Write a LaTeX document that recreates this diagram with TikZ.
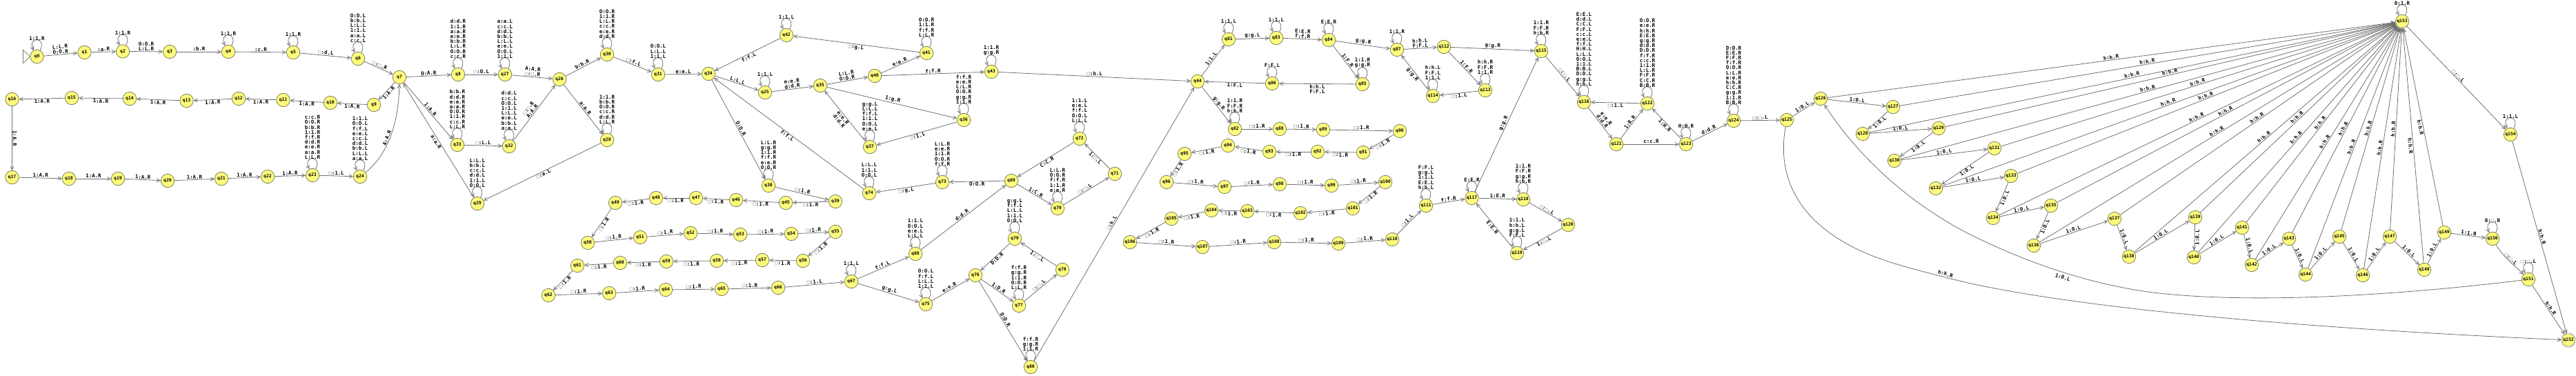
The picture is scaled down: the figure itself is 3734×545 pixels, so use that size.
\documentclass[tikz,border=0pt]{standalone}
\usepackage{fontspec}
\setmonofont{DejaVu Sans Mono}
\usetikzlibrary{arrows.meta}
\definecolor{stfill}{HTML}{FFFC7C}
\definecolor{stline}{HTML}{7F7F60}
\definecolor{conncol}{HTML}{707070}
\newcommand\bx{{\mdseries\color{gray}□}}
\tikzset{
  stt/.style={circle,draw=stline,fill=stfill,line width=.8pt,minimum size=19.4pt,inner sep=0pt,font=\ttfamily\bfseries\fontsize{6.4}{7}\selectfont},
  conn/.style={draw=conncol,line width=.8pt,-{Straight Barb[length=5pt,width=5pt]}},
  edgelab/.style={sloped,midway,inner sep=.8pt,align=center,font=\ttfamily\bfseries\fontsize{7.4}{7.2}\selectfont},
  freelab/.style={inner sep=.8pt,align=center,font=\ttfamily\bfseries\fontsize{7.4}{7.2}\selectfont},
  looplab/.style={inner sep=0pt,align=center,anchor=south,font=\ttfamily\bfseries\fontsize{7.4}{7.2}\selectfont},
}
\newcommand\mystate[4][]{%
  \expandafter\xdef\csname px@#2\endcsname{#3}%
  \node[stt,#1] (#2) at (#3,#4) {#2};}
\newcommand\myedge[3]{%
  \ifdim\csname px@#1\endcsname pt>\csname px@#2\endcsname pt
    \tikzset{labside/.style={below}}%
  \else
    \tikzset{labside/.style={above}}%
  \fi
  \draw[conn] (#1) -- node[edgelab,labside] (l#1-#2) {#3} (#2);}
\newcommand\myloop[2]{%
  \draw[conn] (#1.62) .. controls ([shift={(10pt,20.5pt)}]#1.62) and ([shift={(-10pt,20.5pt)}]#1.118) .. (#1.118);
  \node[looplab] (ll#1) at ([yshift=13.3pt]#1.north) {#2};}
\begin{document}
\begin{tikzpicture}[x=1pt,y=-1pt]
\useasboundingbox (0,0) rectangle (3734,545);
% states
\foreach \n/\x/\y in {q0/53.5/82,q1/122.5/76,q2/178/74.5,q3/246/75,q4/331/75,q5/425/76,
 q6/519/85,q7/579/112,q8/664/108,q9/542/152,q10/479/149,q11/410.5/145,q12/346/143,q13/270.5/146,q14/188/143,q15/104/142,q16/17.5/144,
 q17/17.5/257,q18/100/259,q19/171/259,q20/243/262,q21/321/259,q22/388/256,q23/453/254,q24/522/256,
 q25/1109/134,q26/811/115,q27/732/108,q28/880/203,q29/692/295,q30/880/79,q31/954/108,q32/738/212,q33/663/210,
 q34/1027/107,q35/1189/124,q36/1397/174,q37/1261/213,q38/1114/269,q39/1211/292,q40/1268/110,q41/1343/77,q42/1140/51,q43/1437/104,
 q44/1736/118,q45/1139/294,q46/1067/290,q47/1009/287,q48/951/287,q49/892/294,q50/852/352,q51/928/344,q52/1001/338,q53/1073/340,q54/1147/339,q55/1211/336,
 q56/1164/378,q57/1105/377,q58/1039/378,q59/966/379,q60/899/381,q61/837/385,q62/795/428,q63/883/425,q64/965/420,q65/1046/419,q66/1128/417,
 q67/1234/408,q68/1327/368,q69/1466/262,q70/1533/302,q71/1616/252,q72/1565/201,q73/1366/264,q74/1260/280,q75/1342/441,q76/1414/399,q77/1477/443,q78/1540/391,q79/1471/346,q80/1494/532,
 q81/1781/57,q82/1790/187,q83/1850/55,q84/1926/58,q85/1975/122,q86/1844/121,q87/2025/72,q88/1855/187,q89/1918/188,q90/2029/190,q91/1976/221,q92/1910/220,q93/1840/220,q94/1780/211,q95/1717/223,q96/1691/264,
 q97/1775/271,q98/1855/267,q99/1930/269,q100/2008/264,q101/1961/302,q102/1885/309,q103/1808/306,q104/1756/305,q105/1698/317,q106/1638/351,q107/1743/358,q108/1847/351,q109/1940/353,q110/2018/347,q111/2067/298,
 q112/2093/68,q113/2153/131,q114/2077/139,q115/2234/74,q116/2296/148,q117/2133.5/287,q118/2208/289,q119/2199/367,q120/2273/326,q121/2343/209,q122/2388/150,q123/2444/209,q124/2513/175,q125/2590/174,
 q126/2639/143,q127/2744/155,q128/2700/194,q129/2810/186,q130/2746/233,q131/2891/215,q132/2806/273,q133/2915/255,q134/2889/316,q135/2973/298,q136/2948/356,q137/3065/317,q138/3086/372,
 q139/3182/315,q140/3180/373,q141/3250/330,q142/3264/384,q143/3318/346,q144/3342/398,q145/3391/343,q146/3425/399,q147/3464/343,q148/3514/391,q149/3543/337,q150/3613/346,q151/3665/405,q153/3482/31,q154/3639/195}
 {\mystate{\n}{\x}{\y}}
\mystate[double,double distance=.6pt,line width=.5pt]{q152}{3723}{493}
% start marker
\draw[draw=stline,line width=.8pt] (q0.west) -- ++(-10,-9.7) -- ++(0,19.4) -- cycle;
% loops
\myloop{q0}{1:1.R}
\myloop{q2}{1:1.R}
\myloop{q4}{1:1.R}
\myloop{q5}{1:1.R}
\myloop{q6}{O:O.L\\b:b.L\\L:L.L\\1:1.L\\a:a.L\\c:c.L}
\myloop{q8}{d:d.R\\1:1.R\\a:a.R\\e:e.R\\b:b.R\\L:L.R\\O:O.R\\c:c.R}
\myloop{q23}{c:c.R\\O:O.R\\b:b.R\\1:1.R\\f:f.R\\d:d.R\\e:e.R\\a:a.R\\L:L.R}
\myloop{q24}{1:1.L\\O:O.L\\f:f.L\\e:e.L\\c:c.L\\d:d.L\\b:b.L\\L:L.L\\a:a.L}
\myloop{q25}{1:1.L}
\myloop{q27}{a:a.L\\c:c.L\\d:d.L\\b:b.L\\L:L.L\\e:e.L\\O:O.L\\1:1.L}
\myloop{q28}{1:1.R\\b:b.R\\O:O.R\\c:c.R\\d:d.R\\L:L.R}
\myloop{q29}{L:L.L\\b:b.L\\c:c.L\\d:d.L\\1:1.L\\O:O.L}
\myloop{q30}{O:O.R\\1:1.R\\L:L.R\\c:c.R\\e:e.R\\d:d.R}
\myloop{q31}{O:O.L\\L:L.L\\1:1.L}
\myloop{q32}{d:d.L\\c:c.L\\O:O.L\\1:1.L\\L:L.L\\e:e.L\\b:b.L\\a:a.L}
\myloop{q33}{b:b.R\\d:d.R\\e:e.R\\a:a.R\\O:O.R\\1:1.R\\c:c.R\\L:L.R}
\myloop{q36}{f:f.R\\e:e.R\\L:L.R\\O:O.R\\g:g.R\\1:1.R}
\myloop{q37}{g:g.L\\L:L.L\\f:f.L\\1:1.L\\O:O.L\\e:e.L}
\myloop{q38}{L:L.R\\g:g.R\\1:1.R\\f:f.R\\e:e.R\\O:O.R}
\myloop{q41}{O:O.R\\1:1.R\\f:f.R\\L:L.R}
\myloop{q42}{1:1.L}
\myloop{q43}{1:1.R\\g:g.R}
\myloop{q67}{1:1.L}
\myloop{q68}{1:1.L\\O:O.L\\e:e.L\\L:L.L}
\myloop{q70}{L:L.R\\O:O.R\\f:f.R\\1:1.R\\e:e.R}
\myloop{q72}{1:1.L\\e:e.L\\f:f.L\\O:O.L\\L:L.L}
\myloop{q73}{L:L.R\\e:e.R\\1:1.R\\O:O.R\\f:f.R}
\myloop{q74}{L:L.L\\1:1.L\\O:O.L}
\myloop{q75}{O:O.L\\f:f.L\\L:L.L\\1:1.L}
\myloop{q77}{f:f.R\\g:g.R\\1:1.R\\O:O.R\\L:L.R}
\myloop{q79}{g:g.L\\f:f.L\\L:L.L\\1:1.L\\O:O.L}
\myloop{q80}{f:f.R\\g:g.R\\1:1.R}
\myloop{q81}{1:1.L}
\myloop{q82}{1:1.R\\F:F.R\\h:h.R}
\myloop{q83}{1:1.L}
\myloop{q84}{E:E.R}
\myloop{q85}{1:1.R\\g:g.R}
\myloop{q86}{F:F.L}
\myloop{q87}{1:1.R}
\myloop{q111}{F:F.L\\g:g.L\\1:1.L\\E:E.L\\h:h.L}
\myloop{q113}{h:h.R\\F:F.R\\1:1.R}
\myloop{q114}{h:h.L\\F:F.L\\1:1.L}
\myloop{q115}{1:1.R\\F:F.R\\h:h.R}
\myloop{q116}{E:E.L\\d:d.L\\C:C.L\\F:F.L\\c:c.L\\e:e.L\\f:f.L\\H:H.L\\L:L.L\\O:O.L\\1:1.L\\B:B.L\\D:D.L\\g:g.L\\h:h.L}
\myloop{q117}{E:E.R}
\myloop{q118}{1:1.R\\F:F.R\\g:g.R\\h:h.R}
\myloop{q119}{1:1.L\\h:h.L\\g:g.L\\F:F.L}
\myloop{q122}{O:O.R\\e:e.R\\h:h.R\\E:E.R\\g:g.R\\d:d.R\\D:D.R\\f:f.R\\c:c.R\\1:1.R\\L:L.R\\F:F.R\\C:C.R\\B:B.R}
\myloop{q123}{H:H.R}
\myloop{q124}{D:D.R\\E:E.R\\F:F.R\\f:f.R\\O:O.R\\L:L.R\\e:e.R\\h:h.R\\C:C.R\\g:g.R\\1:1.R\\B:B.R}
\myloop{q150}{0:\bx.R}
\myloop{q151}{\bx:\bx.L}
\myloop{q153}{0:1.R}
\myloop{q154}{1:1.L}
% simple chains
\foreach \a/\b in {q9/q10,q10/q11,q11/q12,q12/q13,q13/q14,q14/q15,q15/q16,q16/q17,q17/q18,q18/q19,q19/q20,q20/q21,q21/q22,q22/q23,q7/q9,q7/q33}
 {\myedge{\a}{\b}{1:A.R}}
\foreach \a/\b in {q38/q39,q39/q45,q45/q46,q46/q47,q47/q48,q48/q49,q49/q50,q50/q51,q51/q52,q52/q53,q53/q54,q54/q55,q55/q56,q56/q57,q57/q58,q58/q59,q59/q60,q60/q61,q61/q62,q62/q63,q63/q64,q64/q65,q65/q66,
 q82/q88,q88/q89,q89/q90,q90/q91,q91/q92,q92/q93,q93/q94,q94/q95,q95/q96,q96/q97,q97/q98,q98/q99,q99/q100,q100/q101,q101/q102,q102/q103,q103/q104,q104/q105,q105/q106,q106/q107,q107/q108,q108/q109,q109/q110}
 {\myedge{\a}{\b}{\bx:1.R}}
\foreach \a/\b in {q125/q126,q126/q127,q127/q128,q128/q129,q129/q130,q130/q131,q131/q132,q132/q133,q133/q134,q134/q135,q135/q136,q136/q137,q137/q138,q138/q139,q139/q140,q140/q141,q141/q142,q142/q143,q143/q144,q144/q145,q145/q146,q146/q147,q147/q148,q148/q149}
 {\myedge{\a}{\b}{1:0.L}}
\foreach \n in {126,...,149}
 {\myedge{q\n}{q153}{h:h.R}}
% other edges
\myedge{q0}{q1}{L:L.R\\O:O.R}
\myedge{q1}{q2}{:a.R}
\myedge{q2}{q3}{O:O.R\\L:L.R}
\myedge{q3}{q4}{:b.R}
\myedge{q4}{q5}{:c.R}
\myedge{q5}{q6}{\bx:d.L}
\myedge{q6}{q7}{\bx:\bx.R}
\myedge{q7}{q8}{O:A.R}
\myedge{q8}{q27}{\bx:O.L}
\myedge{q27}{q26}{A:A.R\\\bx:\bx.R}
\myedge{q26}{q30}{b:b.R}
\myedge{q30}{q31}{\bx:f.L}
\myedge{q31}{q34}{e:e.L}
\myedge{q26}{q28}{a:a.R}
\myedge{q28}{q29}{\bx:a.L}
\myedge{q29}{q7}{a:a.R}
\myedge{q33}{q32}{\bx:L.L}
\myedge{q32}{q26}{\bx:\bx.R\\A:A.R}
\myedge{q23}{q24}{\bx:1.L}
\myedge{q34}{q25}{L:L.L}
\myedge{q25}{q35}{e:e.R\\d:d.R}
\myedge{q35}{q40}{L:L.R\\O:O.R}
\myedge{q40}{q41}{e:e.R}
\myedge{q41}{q42}{\bx:g.L}
\myedge{q42}{q34}{f:f.L}
\myedge{q40}{q43}{f:f.R}
\myedge{q43}{q44}{\bx:h.L}
\myedge{q35}{q36}{1:g.R}
\myedge{q36}{q37}{\bx:1.L}
\myedge{q37}{q35}{e:e.R\\d:d.R}
\myedge{q34}{q38}{O:O.R}
\myedge{q74}{q34}{f:f.L}
\myedge{q73}{q74}{\bx:g.L}
\myedge{q69}{q73}{O:O.R}
\myedge{q66}{q67}{\bx:1.L}
\myedge{q67}{q68}{f:f.L}
\myedge{q67}{q75}{g:g.L}
\myedge{q68}{q69}{d:d.R}
\myedge{q75}{q76}{e:e.R}
\myedge{q69}{q70}{1:C.R}
\myedge{q70}{q71}{\bx:\bx.L}
\myedge{q71}{q72}{1:\bx.L}
\myedge{q72}{q69}{C:C.R}
\myedge{q79}{q76}{D:D.R}
\myedge{q76}{q77}{1:D.R}
\myedge{q77}{q78}{\bx:\bx.L}
\myedge{q78}{q79}{1:\bx.L}
\myedge{q76}{q80}{D:D.R}
\myedge{q80}{q44}{\bx:h.L}
\myedge{q44}{q81}{1:1.L}
\myedge{q81}{q83}{g:g.L}
\myedge{q83}{q84}{E:E.R\\f:f.R}
\myedge{q84}{q87}{g:g.R}
\myedge{q84}{q85}{1:F.R}
\myedge{q85}{q86}{h:h.L\\F:F.L}
\myedge{q86}{q44}{1:F.L}
\myedge{q44}{q82}{g:g.R}
\myedge{q87}{q112}{h:h.L\\F:F.L}
\myedge{q112}{q115}{g:g.R}
\myedge{q112}{q113}{1:F.R}
\myedge{q113}{q114}{\bx:1.L}
\myedge{q114}{q87}{g:g.R}
\myedge{q110}{q111}{\bx:1.L}
\myedge{q111}{q117}{f:f.R}
\myedge{q117}{q115}{g:g.R}
\myedge{q117}{q118}{1:E.R}
\myedge{q118}{q120}{\bx:\bx.L}
\myedge{q120}{q119}{1:\bx.L}
\myedge{q119}{q117}{E:E.R}
\myedge{q115}{q116}{\bx:\bx.L}
\myedge{q116}{q121}{e:e.R\\d:d.R}
\myedge{q121}{q122}{1:B.R}
\myedge{q121}{q123}{c:c.R}
\myedge{q123}{q122}{1:H.R}
\myedge{q122}{q116}{\bx:1.L}
\myedge{q123}{q124}{d:d.R}
\myedge{q124}{q125}{\bx:\bx.L}
\myedge{q149}{q150}{1:1.R}
\myedge{q151}{q152}{h:h.R}
\myedge{q153}{q154}{\bx:\bx.L}
\myedge{q154}{q152}{h:h.R}
% curved edges
\draw[conn] (q24) .. controls (558,228) and (578,185) .. node[edgelab,above] (lq24-q7) {A:A.R} (q7);
\draw[conn] (q150) .. controls (3628,372) and (3645,385) .. node[edgelab,above] (lq150-q151) {\bx:\bx.L} (q151);
\draw[conn] (q125) .. controls (2578,240) and (2595,290) .. (2640,328) .. controls (2690,370) and (2750,384) .. (2820,402) .. controls (2950,437) and (3250,472) .. (q152);
\node[freelab,rotate=-18] (lq125-q152) at (2820,397) {h:h.R};
\draw[conn] (q151) .. controls (3500,425) and (3300,440) .. (3150,427) .. controls (3040,418) and (2935,380) .. (2850,337) .. controls (2770,295) and (2695,230) .. (q126);
\node[freelab,rotate=-18] (lq151-q126) at (2990,402) {1:0.L};
\end{tikzpicture}
\end{document}
